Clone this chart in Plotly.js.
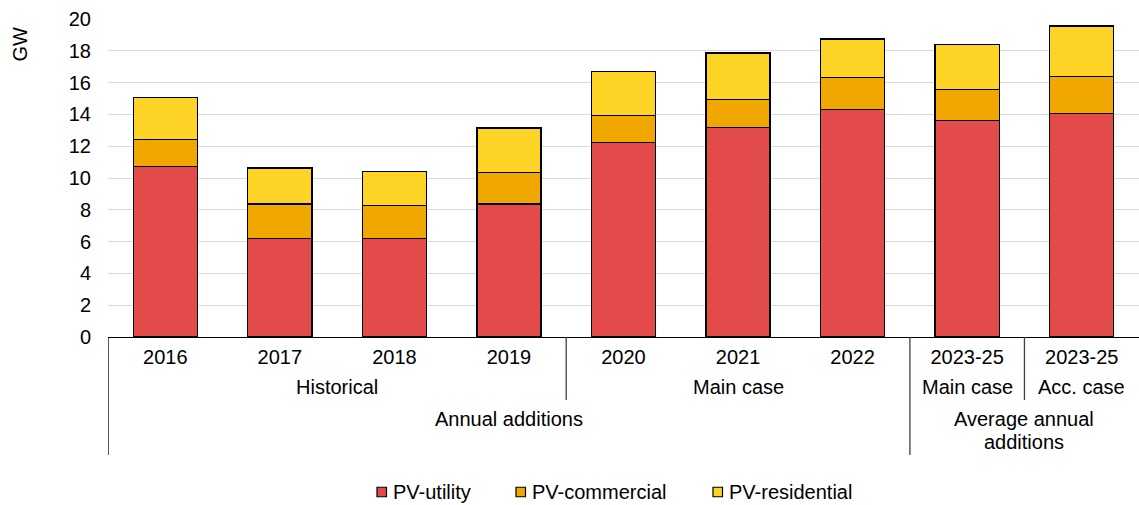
<!DOCTYPE html>
<html>
<head>
<meta charset="utf-8">
<script src="https://cdn.plot.ly/plotly-3.0.1.min.js"></script>
<style>
  html, body { margin: 0; padding: 0; background: #fff; }
  #chart { width: 1139px; height: 505px; }
</style>
</head>
<body>
<div id="chart"></div>
<script>
// ---- Data (GW) ----
const categories = ["2016", "2017", "2018", "2019", "2020", "2021", "2022", "2023-25", "2023-25"];
const pvUtility     = [10.71, 6.18, 6.18, 8.37, 12.22, 13.17, 14.30, 13.61, 14.05];
const pvCommercial  = [1.72, 2.19, 2.09, 1.98, 1.72, 1.78, 2.02, 1.97, 2.35];
const pvResidential = [2.63, 2.25, 2.16, 2.80, 2.74, 2.91, 2.42, 2.82, 3.16];
const seriesNames   = ["PV-utility", "PV-commercial", "PV-residential"];
const seriesColors  = ["#E34B4A", "#F0A800", "#FDD325"];

// Second level labels: [label, first index, last index]
const level2Labels = ["Historical", "Main case", "Main case", "Acc. case"];
const level2Start  = [0, 4, 7, 8];
const level2End    = [3, 6, 7, 8];
// Third level labels
const level3Labels = [["Annual additions"], ["Average annual", "additions"]];
const level3Start  = [0, 7];
const level3End    = [6, 8];
const yTicks = [0, 2, 4, 6, 8, 10, 12, 14, 16, 18, 20];

const xPos = categories.map((_, i) => i);
const FONT = "Liberation Sans, Arial, sans-serif";

const traces = [pvUtility, pvCommercial, pvResidential].map((vals, k) => ({
  type: "bar",
  name: seriesNames[k],
  x: xPos,
  y: vals,
  marker: { color: seriesColors[k], line: { color: "#000000", width: 1.3 } },
  hoverinfo: "y+name",
  showlegend: false
}));

// pixel helpers (plot area: left 108, width 1031, top 19, height 318)
const W = 1139, H = 505;
const M = { l: 108, r: 0, t: 19, b: 168, autoexpand: false };
const plotW = W - M.l - M.r;
const plotH = H - M.t - M.b;
const pyToPaper = py => (H - M.b - py) / plotH;
const pxToPaper = px => (px - M.l) / plotW;

const annotations = [];
level2Labels.forEach((lab, i) => {
  annotations.push({
    text: lab, xref: "x", yref: "paper",
    x: (level2Start[i] + level2End[i]) / 2, y: pyToPaper(387),
    xanchor: "center", yanchor: "middle", showarrow: false,
    font: { family: FONT, size: 20, color: "#000" }
  });
});
level3Labels.forEach((lines, i) => {
  lines.forEach((ln, j) => {
    annotations.push({
      text: ln, xref: "x", yref: "paper",
      x: (level3Start[i] + level3End[i]) / 2, y: pyToPaper(419 + j * 23),
      xanchor: "center", yanchor: "middle", showarrow: false,
      font: { family: FONT, size: 20, color: "#000" }
    });
  });
});
annotations.push({
  text: "GW", xref: "paper", yref: "paper",
  x: pxToPaper(19.5), y: pyToPaper(44),
  xanchor: "center", yanchor: "middle", textangle: -90, showarrow: false,
  font: { family: FONT, size: 20, color: "#000" }
});

const vline = (xv, pyEnd, color) => ({
  type: "line", xref: "x", yref: "paper",
  x0: xv, x1: xv, y0: 0, y1: pyToPaper(pyEnd),
  line: { color: color, width: 1.3 }
});
const shapes = [
  vline(-0.5, 455, "#000000"),
  vline(3.5, 400, "#404040"),
  vline(6.5, 455, "#404040"),
  vline(7.5, 400, "#404040")
];

// Legend (drawn as swatches + text, laid out like the reference)
const legendSwatchX = [377, 516, 713];
const legendY = 492;
seriesNames.forEach((nm, k) => {
  const x0 = legendSwatchX[k];
  shapes.push({
    type: "rect", xref: "paper", yref: "paper",
    x0: pxToPaper(x0), x1: pxToPaper(x0 + 9.5),
    y0: pyToPaper(legendY - 4.75), y1: pyToPaper(legendY + 4.75),
    fillcolor: seriesColors[k], line: { color: "#000000", width: 1.2 }
  });
  annotations.push({
    text: nm, xref: "paper", yref: "paper",
    x: pxToPaper(x0 + 14), y: pyToPaper(legendY),
    xanchor: "left", yanchor: "middle", showarrow: false,
    font: { family: FONT, size: 20, color: "#000" }
  });
});

const layout = {
  width: W, height: H,
  margin: M,
  paper_bgcolor: "#ffffff", plot_bgcolor: "#ffffff",
  barmode: "stack",
  bargap: 0.44,
  showlegend: false,
  xaxis: {
    range: [-0.5, 8.5],
    tickmode: "array", tickvals: xPos, ticktext: categories,
    tickfont: { family: FONT, size: 20, color: "#000" },
    showgrid: false, zeroline: false,
    showline: true, linecolor: "#000000", linewidth: 1.3,
    ticks: "", ticklabelstandoff: 2, fixedrange: true
  },
  yaxis: {
    range: [0, 20],
    tickmode: "array", tickvals: yTicks,
    tickfont: { family: FONT, size: 20, color: "#000" },
    showgrid: true, gridcolor: "#d9d9d9", gridwidth: 1,
    zeroline: false, showline: false, ticks: "",
    ticklabelstandoff: 16, fixedrange: true
  },
  annotations: annotations,
  shapes: shapes
};

Plotly.newPlot("chart", traces, layout, { staticPlot: true, displayModeBar: false });
</script>
</body>
</html>
